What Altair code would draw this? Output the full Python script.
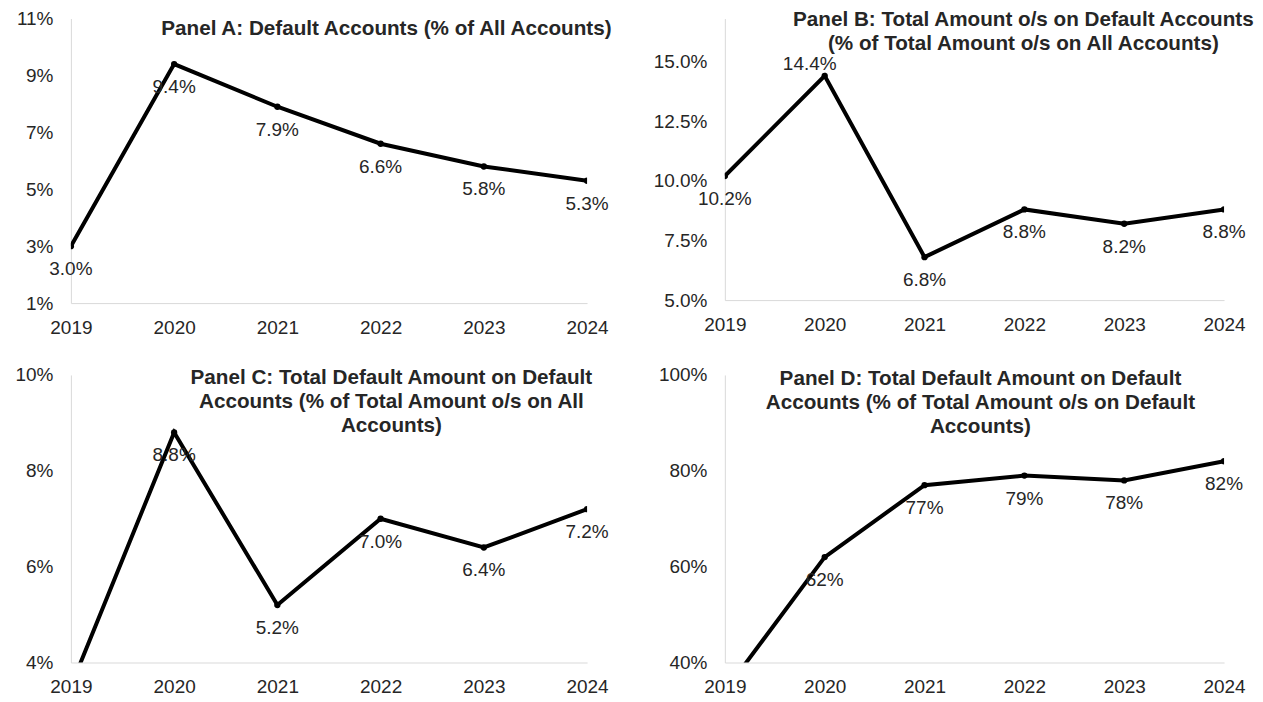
import altair as alt
import pandas as pd

years = ["2019", "2020", "2021", "2022", "2023", "2024"]
panel_a = [0.030, 0.094, 0.079, 0.066, 0.058, 0.053]
panel_b = [0.102, 0.144, 0.068, 0.088, 0.082, 0.088]
panel_c = [0.035, 0.088, 0.052, 0.070, 0.064, 0.072]
panel_d = [0.34, 0.62, 0.77, 0.79, 0.78, 0.82]

title_a = ["Panel A: Default Accounts (% of All Accounts)"]
title_b = ["Panel B: Total Amount o/s on Default Accounts",
           "(% of Total Amount o/s on All Accounts)"]
title_c = ["Panel C: Total Default Amount on Default",
           "Accounts (% of Total Amount o/s on All",
           "Accounts)"]
title_d = ["Panel D: Total Default Amount on Default",
           "Accounts (% of Total Amount o/s on Default",
           "Accounts)"]

ticks_a = [0.01, 0.03, 0.05, 0.07, 0.09, 0.11]
ticks_b = [0.05, 0.075, 0.10, 0.125, 0.15]
ticks_c = [0.04, 0.06, 0.08, 0.10]
ticks_d = [0.40, 0.60, 0.80, 1.00]

FONT = "Liberation Sans"
TXT = "#262626"


def panel(values, title, dom, ticks, yfmt, lblfmt, w, h, tdx, tdy, above_year=None):
    df = pd.DataFrame({"year": years, "value": values})
    x = alt.X("year:O", sort=years,
              scale=alt.Scale(type="point", padding=0),
              axis=alt.Axis(title=None, labelAngle=0, labelFlush=False))
    y = alt.Y("value:Q",
              scale=alt.Scale(domain=dom, nice=False, zero=False),
              axis=alt.Axis(title=None, values=ticks, format=yfmt, labelFlush=False))
    base = alt.Chart(df).encode(x=x, y=y)
    line = base.mark_line(color="black", strokeWidth=4, clip=True)
    pts = base.mark_circle(color="black", size=40, opacity=1, clip=True)
    layers = [line, pts]
    txt = alt.Text("value:Q", format=lblfmt)
    visible = base.transform_filter(alt.datum.value >= dom[0])
    if above_year is None:
        layers.append(visible.mark_text(dy=23, fontSize=19, font=FONT, color=TXT)
                      .encode(text=txt))
    else:
        layers.append(visible.mark_text(dy=23, fontSize=19, font=FONT, color=TXT)
                      .encode(text=txt)
                      .transform_filter(alt.datum.year != above_year))
        layers.append(visible.mark_text(dx=-15, dy=-12, fontSize=19, font=FONT, color=TXT)
                      .encode(text=txt)
                      .transform_filter(alt.datum.year == above_year))
    return alt.layer(*layers).properties(
        width=w, height=h,
        title=alt.TitleParams(text=title, anchor="middle", frame="group",
                              fontSize=20.7, font=FONT, fontWeight="bold",
                              color=TXT, baseline="top", offset=0,
                              dx=tdx, dy=tdy, lineHeight=24),
    )


A = panel(panel_a, title_a, [0.01, 0.11], ticks_a, ".0%", ".1%", 517, 285, 57.5, 30)
B = panel(panel_b, title_b, [0.05, 0.168], ticks_b, ".1%", ".1%", 500, 282, 49, 36, above_year="2020")
C = panel(panel_c, title_c, [0.04, 0.10], ticks_c, ".0%", ".1%", 517, 288, 62.5, 71)
D = panel(panel_d, title_d, [0.40, 1.00], ticks_d, ".0%", ".0%", 500, 288, 6, 72)

chart = alt.concat(A, B, C, D, columns=2,
                   spacing={"row": 72, "column": 138},
                   bounds="flush").properties(
    padding={"left": 6, "top": 0, "right": 0, "bottom": 0}
).configure_view(stroke=None).configure_axis(
    domainColor="#d9d9d9", domainWidth=1, ticks=False, grid=False,
    labelFont=FONT, labelFontSize=19, labelColor=TXT,
).configure_axisX(labelPadding=15).configure_axisY(labelPadding=18)

chart.save("out.html", embed_options={"renderer": "svg", "actions": False})
